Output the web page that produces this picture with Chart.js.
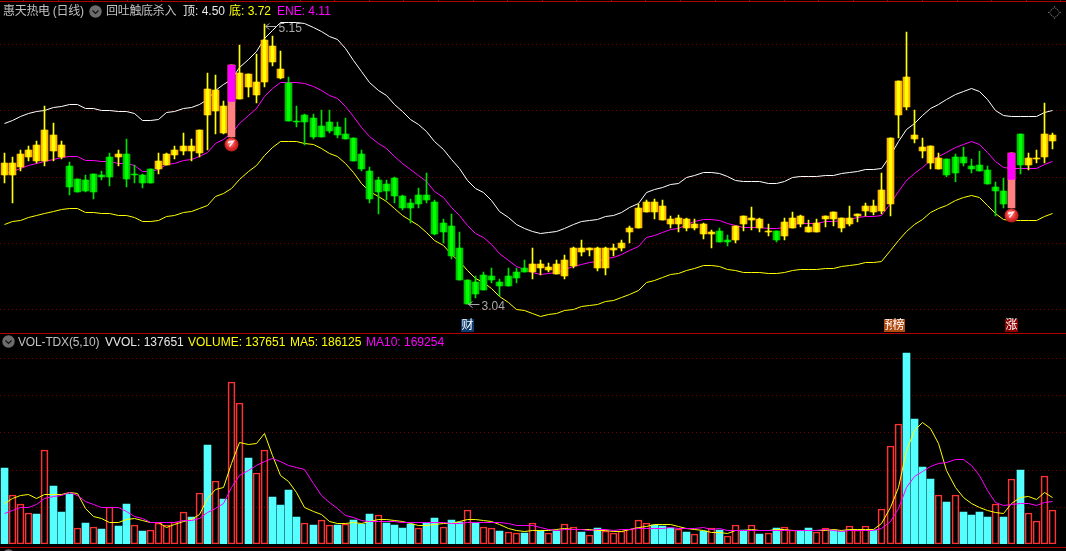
<!DOCTYPE html>
<html><head><meta charset="utf-8">
<style>
html,body{margin:0;padding:0;background:#000;width:1066px;height:551px;overflow:hidden}
canvas{position:absolute;left:0;display:block}
#wrapTop{position:absolute;left:0;top:0;width:1066px;height:333px}
#wrapVol{position:absolute;left:0;top:334px;width:1066px;height:210px}
.t{position:absolute;white-space:nowrap;font:12px "Liberation Sans","Noto Sans CJK SC",sans-serif;line-height:14px}
.rule{position:absolute;left:0;width:1066px;height:1px;background:#b00000}
.tick{position:absolute;top:0;width:1px;height:1px;background:#b00000}
.ico{position:absolute;width:13px;height:13px}
.dia{position:absolute;left:1049.5px;top:7.5px;width:7px;height:7px;border:1px dotted #777;transform:rotate(45deg)}
</style></head><body>
<div id="wrapTop"><canvas id="priceChart" width="1066" height="333" style="top:0"></canvas></div>
<div id="wrapVol"><canvas id="volChart" width="1066" height="210" style="top:0"></canvas></div>
<div class="rule" style="top:1px"></div>
<div class="rule" style="top:333px"></div>
<div class="rule" style="top:547px"></div>
<div class="dia"></div>
<div class="t" style="left:3px;top:4px;color:#c0c0c0;letter-spacing:-0.3px">惠天热电 (日线)</div>
<svg class="ico" style="left:89px;top:5px" viewBox="0 0 13 13"><circle cx="6.5" cy="6.5" r="6.2" fill="#6c6c6c"/><path d="M3.5 5.5 L6.5 8.5 L9.5 5.5" stroke="#111" stroke-width="1.2" fill="none"/></svg>
<div class="t" style="left:106px;top:4px;color:#c0c0c0;letter-spacing:-0.3px">回吐触底杀入</div>
<div class="t" style="left:183px;top:4px;color:#e8e8e8">顶: 4.50</div>
<div class="t" style="left:229px;top:4px;color:#ffff00">底: 3.72</div>
<div class="t" style="left:277px;top:4px;color:#ff00ff">ENE: 4.11</div>
<svg class="ico" style="left:2px;top:335px" viewBox="0 0 13 13"><circle cx="6.5" cy="6.5" r="6.2" fill="#6c6c6c"/><path d="M3.5 5.5 L6.5 8.5 L9.5 5.5" stroke="#111" stroke-width="1.2" fill="none"/></svg>
<svg class="ico" style="left:2px;top:549px" viewBox="0 0 13 13"><circle cx="6.5" cy="6.5" r="6.2" fill="#6c6c6c"/></svg>
<div class="t" style="left:18px;top:335px;color:#c0c0c0;letter-spacing:-0.15px">VOL-TDX(5,10)</div>
<div class="t" style="left:105px;top:335px;color:#e8e8e8">VVOL: 137651</div>
<div class="t" style="left:188px;top:335px;color:#ffff00">VOLUME: 137651</div>
<div class="t" style="left:290px;top:335px;color:#ffff00">MA5: 186125</div>
<div class="t" style="left:366px;top:335px;color:#ff00ff">MA10: 169254</div>
<script src="https://cdn.jsdelivr.net/npm/chart.js@4"></script>
<script>
const opens=[4.01,4.01,4.07,4.15,4.12,4.12,4.19,4.15,4.08,3.98,
3.97,4.02,4.01,4.15,4.15,4.17,4.02,4.01,4.06,4.06,
4.09,4.16,4.19,4.19,4.18,4.46,4.49,4.33,4.56,4.58,
4.67,4.61,4.71,4.86,4.74,4.70,4.42,4.46,4.44,4.38,
4.41,4.37,4.32,4.29,4.17,4.04,3.97,3.94,3.99,3.85,
3.80,3.86,3.86,3.81,3.65,3.63,3.46,3.22,3.21,3.26,
3.25,3.21,3.25,3.28,3.31,3.28,3.31,3.30,3.27,3.25,
3.33,3.43,3.45,3.31,3.31,3.45,3.46,3.58,3.61,3.73,
3.73,3.67,3.64,3.64,3.61,3.61,3.57,3.57,3.59,3.52,
3.52,3.64,3.67,3.61,3.58,3.59,3.55,3.61,3.64,3.58,
3.58,3.68,3.68,3.61,3.64,3.70,3.74,3.73,3.74,3.79,
4.46,4.52,4.28,4.19,4.10,4.06,4.13,4.15,4.15,4.08,
4.09,4.05,3.92,3.89,3.97,4.32,4.09,4.13,4.15,4.27];
const closes=[4.10,4.10,4.17,4.20,4.24,4.35,4.31,4.24,3.92,3.88,
3.89,3.88,4.00,4.00,4.17,3.98,4.01,3.95,3.95,4.12,
4.17,4.20,4.23,4.23,4.35,4.66,4.65,4.53,4.84,4.78,
4.77,4.71,5.03,4.98,4.81,4.42,4.41,4.41,4.30,4.30,
4.34,4.31,4.28,4.12,4.06,3.83,3.88,3.89,3.85,3.76,
3.76,3.79,3.82,3.57,3.58,3.40,3.22,3.04,3.12,3.15,
3.22,3.18,3.18,3.24,3.28,3.34,3.34,3.32,3.34,3.37,
3.46,3.46,3.46,3.46,3.46,3.46,3.50,3.61,3.76,3.81,
3.81,3.78,3.68,3.69,3.68,3.64,3.64,3.58,3.51,3.51,
3.63,3.70,3.69,3.68,3.59,3.52,3.66,3.69,3.70,3.62,
3.65,3.70,3.73,3.69,3.69,3.72,3.78,3.78,3.90,4.29,
4.72,4.75,4.31,4.22,4.23,4.14,4.01,4.03,4.10,4.06,
4.04,3.94,3.89,3.79,4.18,4.09,4.14,4.14,4.32,4.31];
const highs=[4.18,4.15,4.20,4.23,4.27,4.53,4.40,4.27,4.11,3.98,
4.01,4.02,4.04,4.18,4.20,4.28,4.09,4.02,4.06,4.18,
4.18,4.23,4.33,4.28,4.35,4.78,4.76,4.57,4.84,4.99,
4.77,4.92,5.15,5.06,4.94,4.75,4.53,4.47,4.47,4.50,
4.50,4.41,4.44,4.29,4.20,4.07,4.00,3.97,4.00,3.86,
3.83,3.91,4.03,3.82,3.68,3.72,3.58,3.22,3.25,3.28,
3.31,3.23,3.31,3.31,3.37,3.46,3.37,3.35,3.37,3.41,
3.47,3.52,3.46,3.47,3.47,3.49,3.52,3.63,3.79,3.82,
3.83,3.82,3.70,3.71,3.69,3.68,3.65,3.60,3.61,3.56,
3.63,3.70,3.77,3.69,3.64,3.59,3.69,3.73,3.71,3.67,
3.68,3.70,3.73,3.69,3.78,3.72,3.80,3.82,4.03,4.29,
4.72,5.09,4.50,4.29,4.23,4.18,4.13,4.17,4.22,4.13,
4.19,4.08,3.96,3.99,4.18,4.32,4.18,4.20,4.55,4.33];
const lows=[3.95,3.80,4.04,4.12,4.10,4.08,4.12,4.13,3.86,3.88,
3.88,3.83,3.97,3.93,4.08,3.92,3.95,3.91,3.95,4.02,
4.09,4.13,4.16,4.12,4.15,4.20,4.32,4.32,4.30,4.58,
4.60,4.55,4.67,4.83,4.73,4.42,4.37,4.24,4.28,4.30,
4.33,4.29,4.28,4.12,4.04,3.80,3.72,3.82,3.80,3.75,
3.65,3.76,3.80,3.56,3.50,3.38,3.22,3.04,3.09,3.15,
3.20,3.10,3.18,3.20,3.28,3.23,3.26,3.28,3.27,3.23,
3.31,3.40,3.40,3.29,3.26,3.40,3.44,3.50,3.61,3.73,
3.68,3.67,3.61,3.58,3.59,3.60,3.53,3.46,3.51,3.48,
3.50,3.59,3.60,3.58,3.55,3.51,3.52,3.61,3.62,3.58,
3.58,3.62,3.63,3.58,3.63,3.66,3.70,3.71,3.72,3.70,
4.29,4.50,4.25,4.14,4.06,4.06,4.00,3.96,4.08,4.03,
4.04,3.94,3.70,3.76,3.76,4.02,4.05,4.10,4.10,4.21];
const eneMid=[4.02,4.04,4.06,4.08,4.10,4.11,4.13,4.14,4.15,4.15,
4.12,4.12,4.11,4.11,4.10,4.10,4.08,4.04,4.04,4.05,
4.09,4.10,4.12,4.13,4.15,4.18,4.25,4.28,4.32,4.40,
4.46,4.51,4.60,4.66,4.71,4.71,4.71,4.70,4.68,4.65,
4.61,4.59,4.53,4.45,4.37,4.30,4.25,4.21,4.15,4.10,
4.05,4.01,3.96,3.89,3.84,3.77,3.71,3.63,3.57,3.54,
3.49,3.42,3.37,3.32,3.30,3.28,3.26,3.27,3.28,3.30,
3.32,3.34,3.35,3.36,3.38,3.39,3.41,3.44,3.47,3.54,
3.56,3.58,3.60,3.61,3.64,3.66,3.68,3.68,3.67,3.65,
3.63,3.62,3.62,3.62,3.61,3.61,3.62,3.64,3.65,3.65,
3.65,3.66,3.66,3.67,3.68,3.69,3.70,3.70,3.71,3.80,
3.89,3.97,4.02,4.07,4.12,4.15,4.18,4.22,4.24,4.26,
4.24,4.18,4.11,4.07,4.06,4.06,4.06,4.06,4.09,4.11];
const eneUpper=[4.40,4.42,4.45,4.47,4.49,4.50,4.52,4.53,4.54,4.54,
4.51,4.51,4.50,4.50,4.49,4.49,4.47,4.42,4.42,4.43,
4.48,4.49,4.51,4.52,4.54,4.58,4.65,4.69,4.73,4.82,
4.88,4.94,5.04,5.10,5.16,5.16,5.16,5.15,5.12,5.09,
5.05,5.03,4.96,4.87,4.79,4.71,4.65,4.61,4.54,4.49,
4.43,4.39,4.34,4.26,4.20,4.13,4.06,3.97,3.91,3.88,
3.82,3.74,3.69,3.64,3.61,3.59,3.57,3.58,3.59,3.61,
3.64,3.66,3.67,3.68,3.70,3.71,3.73,3.77,3.80,3.88,
3.90,3.92,3.94,3.95,3.99,4.01,4.03,4.03,4.02,4.00,
3.97,3.96,3.96,3.96,3.95,3.95,3.96,3.99,4.00,4.00,
4.00,4.01,4.01,4.02,4.03,4.04,4.05,4.05,4.06,4.16,
4.26,4.35,4.40,4.46,4.51,4.54,4.58,4.62,4.64,4.66,
4.64,4.58,4.50,4.46,4.45,4.45,4.45,4.45,4.48,4.50];
const eneLower=[3.64,3.66,3.67,3.69,3.71,3.72,3.74,3.75,3.76,3.76,
3.73,3.73,3.72,3.72,3.71,3.71,3.69,3.66,3.66,3.67,
3.70,3.71,3.73,3.74,3.76,3.78,3.85,3.87,3.91,3.98,
4.04,4.08,4.16,4.22,4.26,4.26,4.26,4.25,4.24,4.21,
4.17,4.15,4.10,4.03,3.95,3.89,3.85,3.81,3.76,3.71,
3.67,3.63,3.58,3.52,3.48,3.41,3.36,3.29,3.23,3.20,
3.16,3.10,3.05,3.00,2.99,2.97,2.95,2.96,2.97,2.99,
3.00,3.02,3.03,3.04,3.06,3.07,3.09,3.11,3.14,3.20,
3.22,3.24,3.26,3.27,3.29,3.31,3.33,3.33,3.32,3.30,
3.29,3.28,3.28,3.28,3.27,3.27,3.28,3.29,3.30,3.30,
3.30,3.31,3.31,3.32,3.33,3.34,3.35,3.35,3.36,3.44,
3.52,3.59,3.64,3.68,3.73,3.76,3.78,3.82,3.84,3.86,
3.84,3.78,3.72,3.68,3.67,3.67,3.67,3.67,3.70,3.72];
const volumes=[304600,198600,162400,126100,119400,379800,232200,127500,202600,65800,
83200,69800,59000,147600,71100,159700,77800,51000,57700,85900,
77800,89900,130200,107400,206700,397200,255000,179800,653600,569000,
344900,287200,379800,187900,155700,216100,107400,85900,75200,98000,
77800,75200,80500,95300,81900,119400,118100,83200,75200,63100,
81900,65800,84500,103300,69800,95300,89900,138200,84500,69800,
65800,51000,49700,45600,42900,85900,52300,45600,52300,81900,
69800,47000,37600,63100,53700,45600,52300,60400,98000,85900,
77800,71100,63100,61700,47000,41600,52300,64400,55000,33600,
77800,57700,77800,38900,45600,63100,69800,55000,52300,63100,
49700,63100,57700,52300,73800,57700,73800,55000,142300,395900,
484500,767600,501900,308700,260300,198600,167800,198600,127500,115400,
127500,107400,162400,107400,263000,296600,126100,93900,275100,137651];
const volumeIsRed=[0,1,1,1,0,1,0,0,0,1,
0,1,0,1,0,0,1,0,1,1,
1,1,1,0,1,0,1,0,1,1,
0,1,1,0,0,0,0,1,0,1,
1,0,1,0,0,0,1,0,0,0,
0,1,0,0,1,0,0,1,0,1,
1,0,1,1,0,1,0,1,0,1,
1,0,1,0,1,1,1,1,1,1,
0,0,0,1,0,1,0,1,0,1,
1,0,1,0,1,0,1,1,0,0,
1,1,0,0,1,1,1,0,1,1,
1,0,0,0,0,1,0,1,0,0,
0,0,1,0,1,0,1,1,1,1];
const ma5=[165000,183000,197000,199000,183000,201000,201000,199000,209000,205000,
142000,111000,101000,87000,85000,98000,102000,95000,85000,85000,
68000,78000,91000,99000,119000,183000,220000,229000,323000,408000,
401000,404000,444000,357000,274000,250000,209000,149000,129000,119000,
91000,82000,81000,86000,82000,91000,98000,98000,94000,90000,
82000,74000,74000,78000,83000,83000,91000,98000,98000,94000,
90000,79000,63000,54000,50000,54000,54000,54000,58000,62000,
58000,58000,58000,55000,54000,50000,50000,60000,66000,70000,
78000,78000,78000,70000,62000,58000,54000,48000,48000,44000,
55000,56000,60000,56000,56000,58000,58000,55000,56000,56000,
56000,56000,58000,54000,58000,60000,60000,60000,82000,149000,
229000,377000,458000,491000,464000,404000,297000,229000,189000,162000,
145000,133000,127000,122000,162000,187000,192000,178000,209000,186125];
const ma10=[122000,136000,146000,149000,160000,185000,193000,196000,209000,196000,
173000,160000,149000,149000,149000,129000,109000,102000,85000,85000,
86000,86000,94000,95000,102000,125000,142000,162000,229000,276000,
297000,317000,334000,344000,334000,317000,307000,299000,243000,196000,
169000,142000,115000,107000,93000,91000,90000,90000,89000,86000,
86000,86000,86000,86000,86000,82000,83000,85000,86000,87000,
86000,86000,82000,74000,74000,74000,68000,58000,55000,58000,
58000,58000,55000,58000,58000,54000,58000,60000,63000,62000,
63000,64000,66000,64000,64000,64000,66000,60000,62000,54000,
55000,55000,55000,55000,55000,55000,55000,56000,56000,56000,
56000,58000,55000,52000,55000,55000,55000,56000,64000,89000,
142000,229000,270000,293000,313000,323000,327000,342000,340000,317000,
276000,216000,169000,154000,160000,165000,162000,156000,166000,169254];
const priceTicks=[5.0,4.5,4.0,3.5,3.0];
const volumeTicks=[150000,300000,450000,600000,750000];
const signalIndex=[28,124];
const signalTop=[4.84,4.18];
const signalMid=[4.56,3.97];
const signalBottom=[4.30,3.76];
const signalBall=[4.24,3.71];
const extremes=[{i:32,v:5.15,text:"5.15"},{i:57,v:3.04,text:"3.04"}];
const eventIndex=[57,109,110,124];
const eventText=["财","预","榜","涨"];
const eventColor=["#0d3a6e","#b04a10","#b04a10","#8a0000"];

const N=opens.length;
const labels=Array.from({length:N+1},(_,i)=>i<N?String(i):"");
const isUp=i=>closes[i]>=opens[i];
const atSignal=(arr)=>labels.map((_,i)=>{const k=signalIndex.indexOf(i);return k<0?null:arr(k)});

// top ruler ticks
for(let k=0;k<31;k++){const d=document.createElement('div');d.className='tick';d.style.left=Math.round(1060.3-34.57*k)+'px';document.body.appendChild(d)}

const crisp={id:'crisp',afterLayout(c){
  for(const id in c.scales){const s=c.scales[id];if(s._wrapped)continue;s._wrapped=true;
    const o=s.getPixelForValue.bind(s);
    if(id==='x')s.getPixelForValue=(v,i)=>Math.floor(o(v,i))+0.5;
    else if(id==='y')s.getPixelForValue=(v,i)=>Math.round(o(v,i));
    else s.getPixelForValue=(v,i)=>Math.floor(o(v,i))+0.5;
  }}};

function makeBall(){const b=document.createElement('canvas');b.width=15;b.height=15;const g=b.getContext('2d');
  const r=g.createRadialGradient(6,5,1,7.5,7.5,7.5);r.addColorStop(0,'#ff9a9a');r.addColorStop(.55,'#e83030');r.addColorStop(1,'#a81818');
  g.fillStyle=r;g.beginPath();g.arc(7.5,7.5,7,0,Math.PI*2);g.fill();
  g.strokeStyle='rgba(255,255,255,.9)';g.lineWidth=1.3;g.beginPath();g.moveTo(4,5.5);g.lineTo(9.5,4);g.lineTo(5.5,9.5);g.stroke();return b}
const ball=makeBall();

const annot={id:'annot',afterDatasetsDraw(c){
  const g=c.ctx,x=c.scales.x,y=c.scales.y2;g.save();
  g.font='12px "Liberation Sans","Noto Sans CJK SC",sans-serif';g.textBaseline='middle';
  extremes.forEach(e=>{const px=x.getPixelForValue(e.i),py=y.getPixelForValue(e.v);
    const ay=e.v>4?py+3:py;const x0=px+1,x1=px+12;
    g.strokeStyle='#a8a8a8';g.lineWidth=1;g.beginPath();
    g.moveTo(x1,ay);g.lineTo(x0,ay);g.moveTo(x0+4,ay-3);g.lineTo(x0,ay);g.lineTo(x0+4,ay+3);g.stroke();
    g.fillStyle='#a8a8a8';g.textAlign='left';g.fillText(e.text,x1+2,ay+2.5)});
  eventIndex.forEach((ix,k)=>{const px=Math.floor(x.getPixelForValue(ix));
    g.fillStyle=eventColor[k];g.fillRect(px-6,319,13,13);
    g.fillStyle='#fff';g.textAlign='center';g.fillText(eventText[k],px+.5,326)});
  g.restore()}};

const baseOpts=(yMin,yMax,ticks)=>({responsive:false,animation:false,devicePixelRatio:1,
  layout:{autoPadding:false,padding:{left:0.27,right:1.3,top:0,bottom:0}},
  plugins:{legend:{display:false},tooltip:{enabled:false}},events:[],
  scales:{
    x:{type:'category',display:false,offset:true,grid:{display:false}},
    y:{min:yMin,max:yMax,afterBuildTicks:s=>{s.ticks=ticks.map(v=>({value:v}))},
      ticks:{display:false},grid:{color:'#7a0000',lineWidth:1,drawTicks:false,tickLength:0},border:{display:false,dash:[1,3]}},
    y2:{display:false,min:yMin,max:yMax}}});

const line=(data,color,order,w)=>({type:'line',data,yAxisID:'y2',borderColor:color,borderWidth:w||1,pointRadius:0,tension:0,order,fill:false});
const bar=(data,bg,thick,order,extra)=>Object.assign({type:'bar',data,yAxisID:'y',backgroundColor:bg,barThickness:thick,grouped:false,borderWidth:0,order,minBarLength:1},extra||{});

new Chart(document.getElementById('priceChart'),{data:{labels,datasets:[
  line(eneUpper,'#ffffff',10),
  line(eneMid,'#ff00ff',10),
  line(eneLower,'#ffff00',10),
  bar(opens.map((_,i)=>[lows[i],highs[i]]),opens.map((_,i)=>isUp(i)?'#ffff00':'#00e000'),1,8),
  bar(opens.map((_,i)=>[opens[i],closes[i]]),opens.map((_,i)=>isUp(i)?'#ffb400':'#00c000'),7,7),
  bar(opens.map((_,i)=>[opens[i],closes[i]]),opens.map((_,i)=>isUp(i)?'#ffff00':'#00ff00'),3,6),
  bar(atSignal(k=>[signalMid[k],signalTop[k]]),'#ff00ff',7,5),
  bar(atSignal(k=>[signalBottom[k],signalMid[k]]),'#ff8080',7,4),
  {type:'line',data:atSignal(k=>signalBall[k]),yAxisID:'y2',showLine:false,pointStyle:ball,pointRadius:7,order:1,clip:false}
]},options:baseOpts(2.8233,5.3271,priceTicks),plugins:[crisp,annot]});

new Chart(document.getElementById('volChart'),{data:{labels,datasets:[
  line(ma5,'#ffff00',1),
  line(ma10,'#ff00ff',0),
  bar(volumes,volumeIsRed.map(r=>r?'rgba(0,0,0,0)':'#54ffff'),7,5,{
    borderWidth:volumeIsRed.map(r=>r?1:0),borderColor:volumeIsRed.map(r=>r?'#ff3232':'#54ffff'),borderSkipped:false})
]},options:baseOpts(0,845700,volumeTicks),plugins:[crisp]});
</script>
</body></html>
